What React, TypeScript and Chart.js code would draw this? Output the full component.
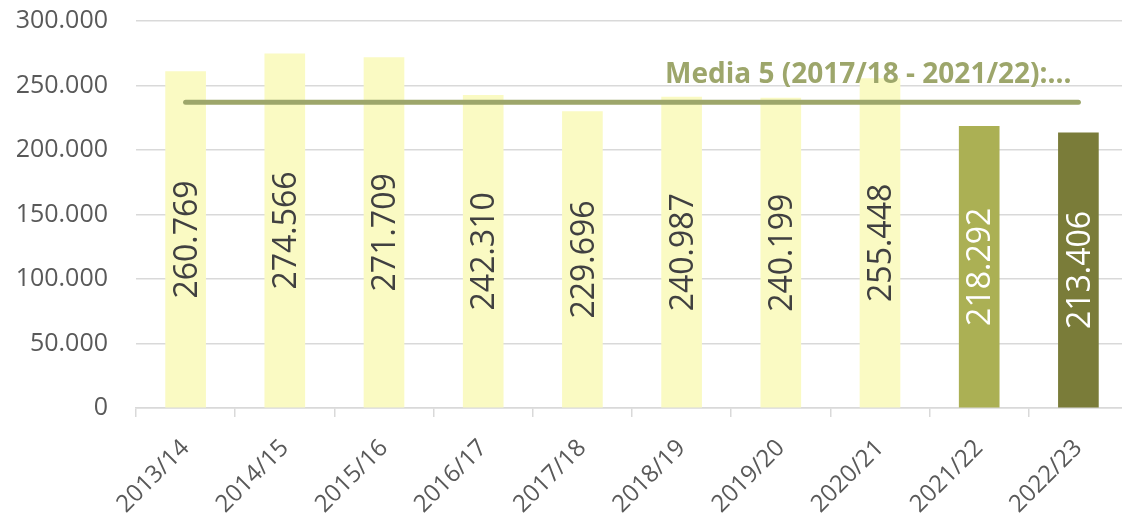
import React, { useEffect, useRef } from "react";
import { Chart, registerables } from "chart.js";

Chart.register(...registerables);

const categories = [
  "2013/14", "2014/15", "2015/16", "2016/17", "2017/18",
  "2018/19", "2019/20", "2020/21", "2021/22", "2022/23",
];
const values = [260769, 274566, 271709, 242310, 229696, 240987, 240199, 255448, 218292, 213406];
const barColors = [
  "#FAFAC3", "#FAFAC3", "#FAFAC3", "#FAFAC3", "#FAFAC3",
  "#FAFAC3", "#FAFAC3", "#FAFAC3", "#ABB054", "#7A7C39",
];
const valueLabelColors = [
  "#404040", "#404040", "#404040", "#404040", "#404040",
  "#404040", "#404040", "#404040", "#FFFFFF", "#FFFFFF",
];
const averageIndices = [4, 5, 6, 7, 8];
const averageLabel = "Media 5 (2017/18 - 2021/22):...";
const yMin = 0;
const yMax = 300000;
const yStep = 50000;

const fmt = (n: number) => String(Math.round(n)).replace(/\B(?=(\d{3})+(?!\d))/g, ".");

const average =
  averageIndices.reduce((s, i) => s + values[i], 0) / averageIndices.length;
const averageSeries = categories.map(() => average);

const FONT = '"Open Sans", "DejaVu Sans", sans-serif';
const LINE_COLOR = "#9DA66B";

const labelsPlugin = {
  id: "valueLabels",
  afterDatasetsDraw(chart: any) {
    const ctx = chart.ctx as CanvasRenderingContext2D;
    const barMeta = chart.getDatasetMeta(0);
    ctx.save();
    ctx.font = `32px ${FONT}`;
    ctx.textAlign = "center";
    ctx.textBaseline = "middle";
    barMeta.data.forEach((bar: any, i: number) => {
      const { x, y, base } = bar.getProps(["x", "y", "base"], true);
      ctx.save();
      ctx.translate(x, (y + base) / 2);
      ctx.rotate(-Math.PI / 2);
      ctx.fillStyle = valueLabelColors[i];
      ctx.fillText(fmt(values[i]), 0, 2);
      ctx.restore();
    });
    const lineMeta = chart.getDatasetMeta(1);
    const last = lineMeta.data[lineMeta.data.length - 1];
    ctx.font = `bold 28px ${FONT}`;
    ctx.fillStyle = LINE_COLOR;
    ctx.textAlign = "right";
    ctx.textBaseline = "alphabetic";
    ctx.fillText(averageLabel, last.x - 7, last.y - 19);
    ctx.restore();
  },
};

export default function App() {
  const canvasRef = useRef<HTMLCanvasElement | null>(null);

  useEffect(() => {
    if (!canvasRef.current) return;
    const chart = new Chart(canvasRef.current, {
      type: "bar",
      data: {
        labels: categories,
        datasets: [
          {
            type: "bar",
            data: values,
            backgroundColor: barColors,
            borderWidth: 0,
            barThickness: 40,
            order: 1,
          } as any,
          {
            type: "line",
            data: averageSeries,
            borderColor: LINE_COLOR,
            borderWidth: 5,
            borderCapStyle: "round",
            pointRadius: 0,
            fill: false,
            order: 0,
          } as any,
        ],
      },
      options: {
        responsive: false,
        animation: false,
        devicePixelRatio: 1,
        layout: { padding: { left: 13, top: 21, right: 2, bottom: 0 } },
        plugins: {
          legend: { display: false },
          tooltip: { enabled: false },
        },
        scales: {
          x: {
            grid: {
              display: true,
              drawOnChartArea: false,
              color: "#D9D9D9",
              lineWidth: 1.5,
              tickLength: 9,
              offset: true,
            },
            border: { color: "#D9D9D9", width: 1.5 },
            ticks: {
              autoSkip: false,
              minRotation: 45,
              maxRotation: 45,
              color: "#595959",
              padding: 17,
              font: { family: FONT, size: 24 },
            },
            afterFit: (s: any) => {
              s.height = 110;
            },
          },
          y: {
            min: yMin,
            max: yMax,
            grid: {
              color: "#D9D9D9",
              lineWidth: 1.5,
              drawTicks: true,
              tickLength: 28,
              tickColor: "rgba(0,0,0,0)",
            },
            border: { display: false },
            ticks: {
              stepSize: yStep,
              color: "#595959",
              padding: 0,
              font: { family: FONT, size: 25 },
              callback: (v: any) => fmt(Number(v)),
            },
            afterFit: (s: any) => {
              s.width = 123;
            },
          },
        },
      },
      plugins: [labelsPlugin],
    });
    return () => chart.destroy();
  }, []);

  return (
    <div
      style={{
        position: "fixed",
        left: 0,
        top: 0,
        width: 1122,
        height: 518,
        overflow: "hidden",
        background: "#FFFFFF",
      }}
    >
      <canvas ref={canvasRef} width={1130} height={518} style={{ display: "block" }} />
    </div>
  );
}
